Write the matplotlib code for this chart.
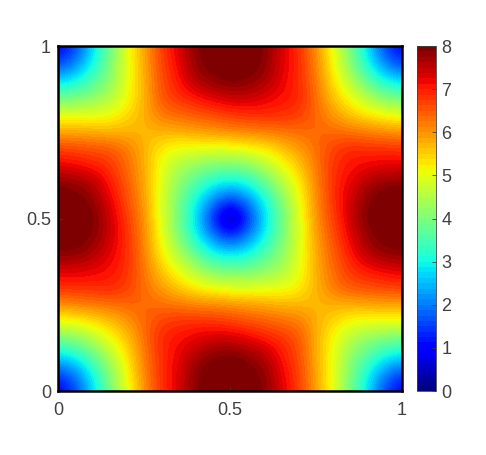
import numpy as np
import matplotlib
matplotlib.use("Agg")
import matplotlib.pyplot as plt
from matplotlib.colors import BoundaryNorm

plt.rcParams['font.family'] = ['Liberation Sans', 'DejaVu Sans']

# values, step 0.05, columns x = 0 ... 0.5
# lower left quadrant, rows y = 0 ... 0.5
ll_00 = [0.9, 1.5, 2.7, 3.9, 5.0, 6.0, 6.85, 7.3, 7.9, 8.1, 8.2]
ll_05 = [1.5, 2.0, 2.95, 4.05, 5.1, 6.1, 6.9, 7.3, 7.9, 8.05, 8.15]
ll_10 = [2.7, 2.95, 3.7, 4.5, 5.3, 6.2, 6.9, 7.2, 7.7, 7.9, 8.0]
ll_15 = [3.9, 4.05, 4.5, 5.05, 5.55, 6.3, 6.95, 7.1, 7.25, 7.45, 7.45]
ll_20 = [5.0, 5.1, 5.3, 5.55, 5.95, 6.35, 6.75, 6.85, 6.9, 6.85, 6.75]
ll_25 = [6.0, 6.1, 6.2, 6.3, 6.35, 6.4, 6.3, 6.25, 6.15, 6.1, 6.05]
ll_30 = [6.85, 6.9, 6.9, 6.95, 6.75, 6.3, 5.9, 5.55, 5.2, 5.05, 4.9]
ll_35 = [7.3, 7.3, 7.2, 7.1, 6.85, 6.25, 5.55, 5.0, 4.5, 4.05, 3.9]
ll_40 = [7.9, 7.9, 7.7, 7.25, 6.9, 6.15, 5.2, 4.5, 3.7, 2.95, 2.75]
ll_45 = [8.1, 8.05, 7.9, 7.45, 6.85, 6.1, 5.05, 4.05, 2.95, 2.0, 1.3]
mid = [8.2, 8.15, 8.0, 7.45, 6.75, 6.05, 4.9, 3.9, 2.75, 1.3, 0.0]

# upper left quadrant, rows y = 1 ... 0.55
ul_00 = [0.9, 1.5, 2.7, 3.9, 5.0, 5.85, 6.75, 7.3, 7.9, 8.1, 8.2]
ul_05 = [1.5, 2.0, 2.95, 3.95, 5.0, 5.8, 6.7, 7.2, 7.85, 8.0, 8.15]
ul_10 = [2.7, 2.95, 3.55, 4.15, 5.0, 5.75, 6.6, 7.05, 7.65, 7.85, 8.0]
ul_15 = [3.9, 3.95, 4.15, 4.5, 5.05, 5.75, 6.55, 6.85, 7.05, 7.3, 7.45]
ul_20 = [5.0, 5.0, 5.0, 5.05, 5.4, 5.75, 6.25, 6.35, 6.5, 6.6, 6.75]
ul_25 = [5.85, 5.85, 5.8, 5.75, 5.75, 5.7, 5.7, 5.75, 5.85, 5.95, 6.05]
ul_30 = [6.75, 6.7, 6.6, 6.55, 6.25, 5.75, 5.2, 5.0, 4.95, 4.9, 4.9]
ul_35 = [7.3, 7.2, 7.05, 6.85, 6.35, 5.8, 5.0, 4.45, 4.15, 3.95, 3.9]
ul_40 = [7.9, 7.85, 7.65, 7.05, 6.5, 5.85, 4.95, 4.15, 3.55, 2.95, 2.75]
ul_45 = [8.1, 8.0, 7.85, 7.3, 6.6, 5.95, 4.9, 3.95, 2.95, 2.0, 1.3]

left = np.array([ll_00, ll_05, ll_10, ll_15, ll_20, ll_25, ll_30, ll_35, ll_40, ll_45, mid,
                 ul_45, ul_40, ul_35, ul_30, ul_25, ul_20, ul_15, ul_10, ul_05, ul_00])

# right half is the left half turned by 180 degrees
Z = np.hstack([left, left[::-1, ::-1][:, 1:]])

W, H = 486, 455
fig = plt.figure(figsize=(W / 100, H / 100), dpi=100)
ax = fig.add_axes([58 / W, (H - 391) / H, 344 / W, 345 / H])
cax = fig.add_axes([417 / W, (H - 391) / H, 19 / W, 345 / H])

levels = np.linspace(0, 8, 65)
cmap = plt.get_cmap('jet', 64)
norm = BoundaryNorm(levels, cmap.N)

im = ax.imshow(Z, origin='lower', extent=[-0.025, 1.025, -0.025, 1.025],
               cmap=cmap, norm=norm, interpolation='bicubic', aspect='auto')
ax.set_xlim(0, 1)
ax.set_ylim(0, 1)
ax.set_xticks([0, 0.5, 1], ['0', '0.5', '1'])
ax.set_yticks([0, 0.5, 1], ['0', '0.5', '1'])
ax.tick_params(direction='in', length=3, width=0.6, labelsize=13, colors='#404040')
ax.tick_params(axis='x', pad=8)
ax.tick_params(axis='y', pad=5)
for s in ax.spines.values():
    s.set_linewidth(1.8)
    s.set_color('black')

cb = fig.colorbar(im, cax=cax, ticks=np.arange(0, 9), spacing='proportional')
cb.ax.tick_params(direction='in', length=3, width=0.6, labelsize=13, colors='#404040', pad=4)
cb.outline.set_linewidth(0.6)
cb.outline.set_edgecolor('#404040')
cb.minorticks_off()

fig.savefig('out.png', dpi=100)
